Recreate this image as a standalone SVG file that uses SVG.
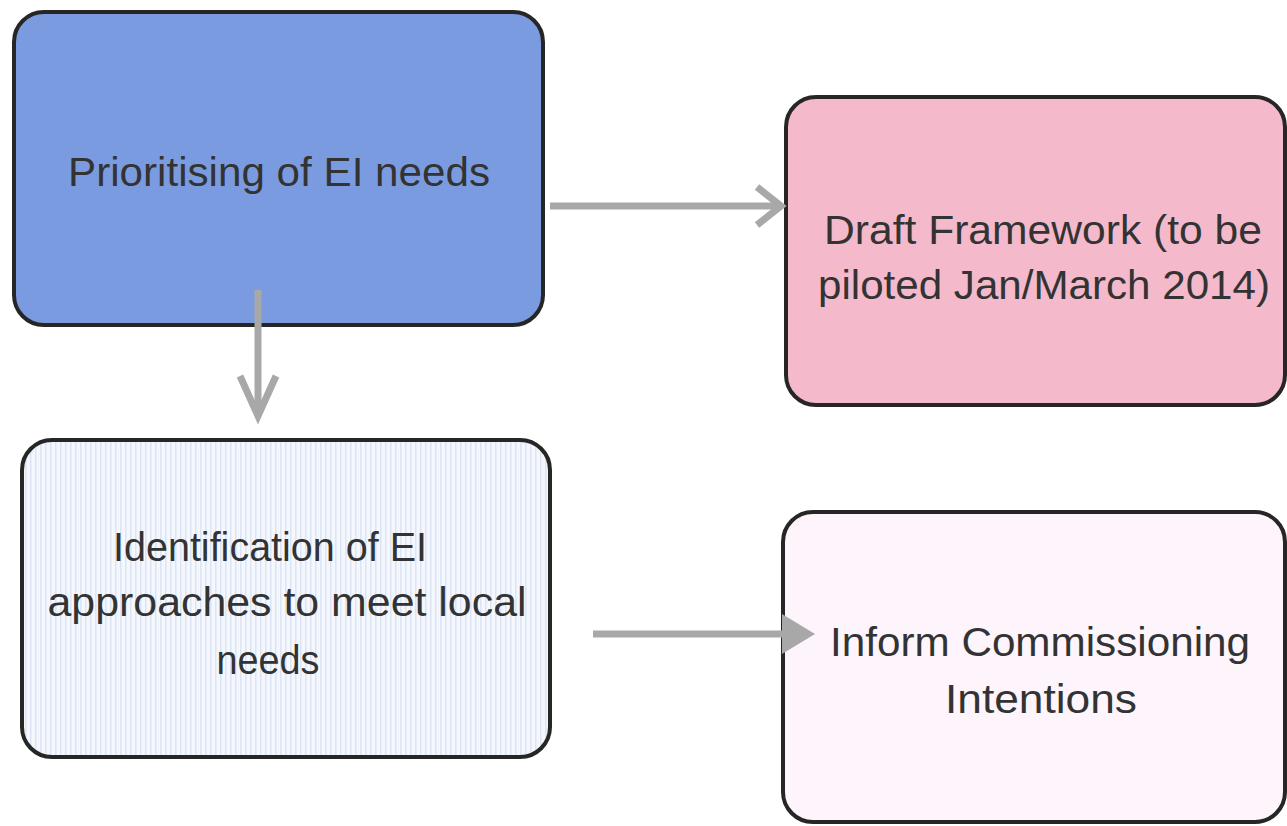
<svg xmlns="http://www.w3.org/2000/svg" width="1287" height="826" viewBox="0 0 1287 826">
<style>
.box{stroke:#262626;stroke-width:4}
.t{font-family:"Liberation Sans",Arial,sans-serif;font-size:41px;fill:#333;text-anchor:middle}
.c{stroke:#a8a8a8;stroke-width:7;fill:none}
</style>
<defs>
<pattern id="stripes" width="5" height="10" patternUnits="userSpaceOnUse">
<rect width="5" height="10" fill="#f4f7fd"/>
<rect width="1.5" height="10" fill="#dde5f4"/>
</pattern>
</defs>
<rect width="1287" height="826" fill="#ffffff"/>
<g id="n1">
<rect class="box" x="14" y="12" width="529" height="313" rx="30" fill="#7b9be0"/>
<text class="t" x="279" y="186" textLength="422" lengthAdjust="spacingAndGlyphs" fill="#222">Prioritising of EI needs</text>
</g>
<g id="n2">
<rect class="box" x="786" y="97" width="499" height="308" rx="30" fill="#f4b9ca"/>
<text class="t" x="1043" y="244" textLength="438" lengthAdjust="spacingAndGlyphs">Draft Framework (to be</text>
<text class="t" x="1044" y="299" textLength="452" lengthAdjust="spacingAndGlyphs">piloted Jan/March 2014)</text>
</g>
<g id="n3">
<rect class="box" x="22" y="440" width="528" height="317" rx="30" fill="url(#stripes)"/>
<text class="t" x="270" y="561" textLength="314" lengthAdjust="spacingAndGlyphs">Identification of EI</text>
<text class="t" x="287" y="616" textLength="479" lengthAdjust="spacingAndGlyphs">approaches to meet local</text>
<text class="t" x="268" y="674" textLength="103" lengthAdjust="spacingAndGlyphs">needs</text>
</g>
<g id="n4">
<rect class="box" x="783" y="512" width="502" height="310" rx="30" fill="#fdf5fb"/>
<text class="t" x="1040" y="656" textLength="420" lengthAdjust="spacingAndGlyphs">Inform Commissioning</text>
<text class="t" x="1041" y="713" textLength="192" lengthAdjust="spacingAndGlyphs">Intentions</text>
</g>
<g id="connectors">
<line class="c" x1="550" y1="206" x2="778" y2="206"/>
<polyline class="c" points="757,187 781,206 757,225"/>
<line class="c" x1="258" y1="290" x2="258" y2="416"/>
<polyline class="c" points="240,376 258,416 276,376"/>
<line class="c" x1="593" y1="634" x2="800" y2="634"/>
<polygon points="782,614 815,634 782,654" fill="#a8a8a8"/>
</g>
</svg>
